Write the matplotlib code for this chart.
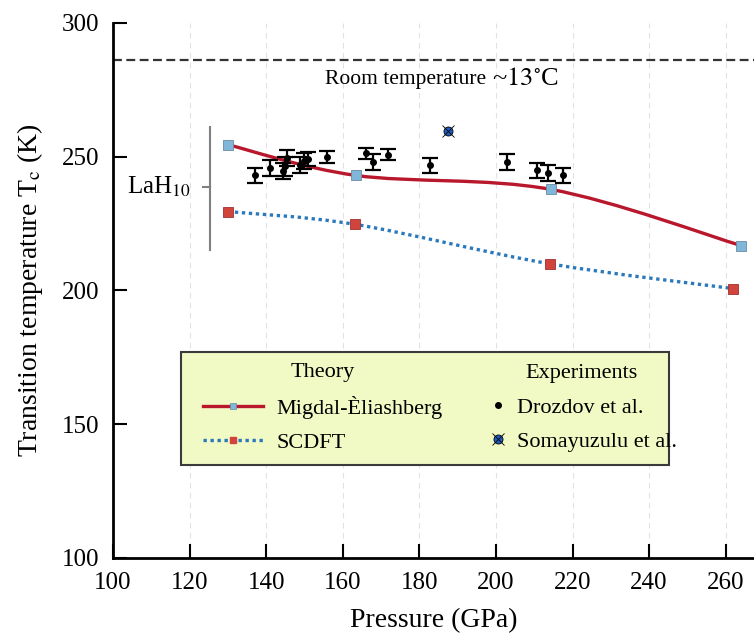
import numpy as np
import matplotlib
matplotlib.use("Agg")
import matplotlib.pyplot as plt
from matplotlib.path import Path
from matplotlib.patches import PathPatch, Rectangle
from matplotlib.lines import Line2D

plt.rcParams['font.family'] = ['Liberation Serif', 'DejaVu Serif']
plt.rcParams['mathtext.fontset'] = 'stix'

# theory (Migdal-Eliashberg and SCDFT)
p_me = [130, 163.5, 214.3, 264]
tc_me = [254.5, 243, 237.8, 216.8]
p_scdft = [130, 163.3, 214, 262]
tc_scdft = [229.5, 224.7, 210, 200.7]

# experiments (Drozdov et al.)
p_dro = [137, 141, 144.5, 145, 145.5, 148.8, 150, 151, 155.8, 166, 168, 171.9, 182.8, 202.8, 210.6, 213.7, 217.6]
tc_dro = [243, 245.8, 244.5, 246.4, 249.5, 247, 248.3, 249.2, 249.8, 251.3, 248, 250.8, 246.8, 248, 244.9, 243.9, 243]
err_dro = [2.8, 3, 3, 3.5, 3, 3, 3, 2.5, 2.2, 2, 2.9, 2.1, 2.9, 2.9, 2.9, 2.9, 2.9]

# experiments (Somayuzulu et al.)
p_som = [187.5]
tc_som = [259.5]

room_t = 286.15
xticks = [100, 120, 140, 160, 180, 200, 220, 240, 260]
yticks = [100, 150, 200, 250, 300]


def smooth_path(xs, ys):
    # Catmull-Rom spline through the points, written as cubic Bezier segments
    pts = np.column_stack([xs, ys]).astype(float)
    verts = [pts[0]]
    codes = [Path.MOVETO]
    n = len(pts)
    for i in range(n - 1):
        p0 = pts[i - 1] if i > 0 else pts[i]
        p1 = pts[i]
        p2 = pts[i + 1]
        p3 = pts[i + 2] if i + 2 < n else pts[i + 1]
        c1 = p1 + (p2 - p0) / 6.0
        c2 = p2 - (p3 - p1) / 6.0
        verts += [c1, c2, p2]
        codes += [Path.CURVE4] * 3
    return Path(verts, codes)


fig = plt.figure(figsize=(7.54, 6.33), dpi=100)
ax = fig.add_axes([0.1499, 0.1185, 0.8501, 0.8452])

red = '#b8172c'
blue = '#2b79bd'
lblue = '#80b6d9'
rsq = '#d1443c'

ax.set_xlim(100, 267.4)
ax.set_ylim(100, 300)

# vertical grid
for xt in xticks[1:]:
    ax.axvline(xt, color='#e2e2e2', lw=0.8, ls=(0, (5, 4)), zorder=0)

# room temperature
ax.axhline(room_t, color='#333333', lw=1.6, ls=(0, (4, 2)))
ax.text(198.9, 278.8, 'Room temperature ', ha='right', va='center', fontsize=15.5)
ax.text(198.9, 279.2, r'~$13^{\circ}$C', ha='left', va='center', fontsize=19)

# theory curves
ax.add_patch(PathPatch(smooth_path(p_me, tc_me), fill=False, edgecolor=red, lw=2.4, zorder=3))
ax.add_patch(PathPatch(smooth_path(p_scdft, tc_scdft), fill=False, edgecolor=blue, lw=2.4,
                       ls=(0, (1, 1.1)), zorder=3))
ax.plot(p_me, tc_me, 's', color=lblue, mec='#6a8ca0', mew=0.6, ms=7, zorder=4, clip_on=False)
ax.plot(p_scdft, tc_scdft, 's', color=rsq, mec='#a03030', mew=0.6, ms=7, zorder=4, clip_on=False)

# experiments
ax.errorbar(p_dro, tc_dro, yerr=err_dro, fmt='o', color='black', ms=4, elinewidth=1.6,
            capsize=5.5, capthick=1.6, zorder=5)
ax.plot(p_som, tc_som, 'o', color='#1a5fc0', mec='black', mew=0.6, ms=6.5, zorder=5)
ax.plot(p_som, tc_som, 'x', color='black', mew=0.6, ms=8, zorder=6)

# LaH10 bracket
ax.plot([125.3, 125.3], [215.2, 261.2], color='#808080', lw=1.5, clip_on=False)
ax.plot([123.5, 125.3], [238.8, 238.8], color='#808080', lw=1.5, clip_on=False)
ax.text(120.3, 238.8, r'LaH$_{10}$', ha='right', va='center', fontsize=18)

# legend box
ax.add_patch(Rectangle((0.106, 0.174), 0.761, 0.211, transform=ax.transAxes,
                       facecolor='#f1f9c4', edgecolor='#3a3a3a', lw=1.5, zorder=6))

h_me = Line2D([], [], color=red, lw=2.4, marker='s', ms=5, mfc=lblue, mec='#6a8ca0', mew=0.5)
h_sc = Line2D([], [], color=blue, lw=2.4, ls=(0, (1, 1.1)), marker='s', ms=5, mfc=rsq, mec=rsq)
leg1 = ax.legend([h_me, h_sc], ['Migdal-Èliashberg', 'SCDFT'], title='Theory',
                 loc='center left', bbox_to_anchor=(0.140, 0.280), fontsize=16, title_fontsize=16,
                 frameon=False, handlelength=2.7, handletextpad=0.63, borderpad=0,
                 borderaxespad=0, labelspacing=0.62)
leg1.set_zorder(7)
ax.add_artist(leg1)

h_dro = Line2D([], [], color='black', ls='none', marker='o', ms=4)
h_som = (Line2D([], [], ls='none', marker='o', color='#1a5fc0', mec='black', mew=0.6, ms=6.5),
         Line2D([], [], ls='none', marker='x', color='black', mew=0.6, ms=8))
leg2 = ax.legend([h_dro, h_som], ['Drozdov et al.', 'Somayuzulu et al.'], title='Experiments',
                 loc='center left', bbox_to_anchor=(0.583, 0.280), fontsize=16, title_fontsize=16,
                 frameon=False, handlelength=1.0, handletextpad=0.36, borderpad=0,
                 borderaxespad=0, labelspacing=0.62)
leg2.set_zorder(7)

# axes style
for s in ['top', 'right']:
    ax.spines[s].set_visible(False)
for s in ['left', 'bottom']:
    ax.spines[s].set_linewidth(2)
ax.set_xticks(xticks)
ax.set_yticks(yticks)
ax.tick_params(direction='in', length=10, width=1.5, labelsize=18, pad=10)
ax.set_xlabel('Pressure (GPa)', fontsize=20, labelpad=10)
ax.set_ylabel(r'Transition temperature T$_{\mathrm{c}}$ (K)', fontsize=20, labelpad=12)

fig.savefig('out.png', dpi=100)
